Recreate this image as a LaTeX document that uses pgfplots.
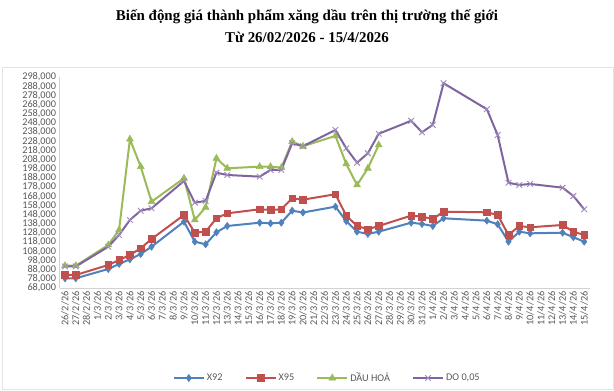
\documentclass[border=0pt]{standalone}
\usepackage{pgfplots}
\pgfplotsset{compat=1.18}
\usepackage{pgfplotstable}
\usepackage{fontspec}
\setmainfont{Liberation Serif}
\newfontfamily\calibri{Carlito}
\definecolor{cXa}{HTML}{4F81BD}
\definecolor{cXb}{HTML}{C0504D}
\definecolor{cDH}{HTML}{9BBB59}
\definecolor{cDO}{HTML}{8064A2}
\definecolor{textgray}{HTML}{595959}

\pgfplotstableread{
x X92 X95 DH DO
0 78600 82200 92300 91500
1 78600 82200 92300 91500
4 88700 93100 114900 113000
5 94200 98500 131300 125800
6 99300 104000 230200 142200
7 105100 111300 200300 152300
8 113000 121400 162100 154900
11 140300 147600 187600 184700
12 118500 128300 142200 161000
13 115600 129400 156000 162900
14 128700 144000 209400 193700
15 135600 149400 198500 191200
18 139200 153800 200300 189400
19 138500 153100 200300 196700
20 139200 153800 199200 196700
21 152300 165800 227600 225800
22 150300 164300 222500 222500
25 156700 170200 233800 240300
26 140900 146900 203200 220300
27 129400 135600 180300 204600
28 126900 132000 198500 214900
29 129400 135600 223900 236100
32 139200 146900 nan 250300
33 137800 145800 nan 237800
34 135600 143200 nan 245800
35 144000 151200 nan 291200
39 141400 150500 nan 262900
40 137500 147600 nan 234700
41 118500 125800 nan 182800
42 129400 135600 nan 180300
43 127600 134200 nan 181400
46 128300 136700 nan 177400
47 123300 129400 nan 168300
48 118500 125800 nan 153800
}\data

\begin{document}
\begin{tikzpicture}[x=1bp,y=1bp]
\path[use as bounding box] (-59.6,-102) rectangle (554.4,288);
\draw[gray!22, line width=0.8bp] (-57.6,-101) rectangle (553.6,221);
\node[anchor=base, font=\fontsize{15}{17}\selectfont\bfseries] at (247.4,268) {Biến động giá thành phẩm xăng dầu trên thị trường thế giới};
\node[anchor=base, font=\fontsize{15}{17}\selectfont\bfseries] at (247.4,246) {Từ 26/02/2026 - 15/4/2026};
\begin{axis}[
  at={(0,0)}, anchor=south west,
  width=530bp, height=211bp, scale only axis,
  xmin=-0.5, xmax=48.5, ymin=68000, ymax=298000,
  ytick={68000,78000,88000,98000,108000,118000,128000,138000,148000,158000,168000,178000,188000,198000,208000,218000,228000,238000,248000,258000,268000,278000,288000,298000},
  xtick={0,...,48},
  xticklabels={26/2/26,27/2/26,28/2/26,1/3/26,2/3/26,3/3/26,4/3/26,5/3/26,6/3/26,7/3/26,8/3/26,9/3/26,10/3/26,11/3/26,12/3/26,13/3/26,14/3/26,15/3/26,16/3/26,17/3/26,18/3/26,19/3/26,20/3/26,21/3/26,22/3/26,23/3/26,24/3/26,25/3/26,26/3/26,27/3/26,28/3/26,29/3/26,30/3/26,31/3/26,1/4/26,2/4/26,3/4/26,4/4/26,5/4/26,6/4/26,7/4/26,8/4/26,9/4/26,10/4/26,11/4/26,12/4/26,13/4/26,14/4/26,15/4/26},
  scaled y ticks=false,
  axis x line*=bottom, axis y line*=left,
  axis line style={gray!35, -, line width=0.8bp},
  major tick length=0pt,
  tick label style={font=\calibri\fontsize{10.3}{11}\selectfont, text=textgray},
  yticklabel style={/pgf/number format/.cd, fixed, 1000 sep={,}, assume math mode=true},
  xticklabel style={rotate=90, anchor=east},
  legend columns=-1,
  legend style={at={(0.505,-0.4265)}, anchor=center, draw=none, fill=none,
     font=\calibri\fontsize{10.3}{11}\selectfont, text=textgray,
     /tikz/every even column/.append style={column sep=20bp}},
  legend image code/.code={\draw[mark repeat=2,mark phase=2] plot coordinates {(0bp,0bp) (15bp,0bp) (30bp,0bp)};},
]
\addplot[color=cXa, line width=2bp, mark=diamond*, mark size=3.6bp, mark options={solid, line width=0.5bp}] table[x=x,y=X92]{\data};
\addlegendentry{X92}
\addplot[color=cXb, line width=2bp, mark=square*, mark size=3.3bp, mark options={solid, line width=0.5bp}] table[x=x,y=X95]{\data};
\addlegendentry{X95}
\addplot[color=cDH, line width=2bp, mark=triangle*, mark size=4bp, mark options={solid, line width=0.5bp}] table[x=x,y=DH]{\data};
\addlegendentry{DẦU HOẢ}
\addplot[color=cDO, line width=2bp, mark=x, mark size=4bp, mark options={solid, line width=0.9bp, draw=cDO!75}] table[x=x,y=DO]{\data};
\addlegendentry{DO 0,05}
\end{axis}
\end{tikzpicture}
\end{document}
